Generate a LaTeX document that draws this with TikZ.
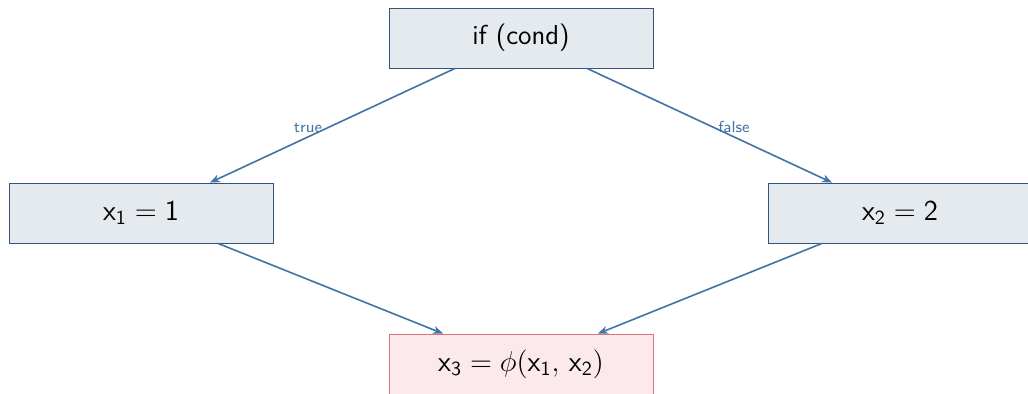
\documentclass[tikz,border=0pt]{standalone}
\usepackage{amsmath}
\usetikzlibrary{arrows.meta}

\definecolor{boxFill}{HTML}{E5EAEF}
\definecolor{boxLine}{HTML}{34557F}
\definecolor{phiFill}{HTML}{FBE9EB}
\definecolor{phiLine}{HTML}{E0707C}
\definecolor{edgeCol}{HTML}{4372A3}

\begin{document}
\begin{tikzpicture}[font=\sffamily ,
block/.style={rectangle, draw=boxLine, fill=boxFill, minimum height=30pt, minimum width=132pt, inner sep=0pt, font=\sffamily\fontsize{13.7}{16}\selectfont} ,
phiBlock/.style={block, draw=phiLine, fill=phiFill} ,
flow/.style={draw=edgeCol, thick, -{Stealth[length=5pt, width=4pt]}} ,
branch/.style={font=\sffamily\footnotesize, text=edgeCol, inner sep=1.5pt}
]
\useasboundingbox (0,0) rectangle (514pt,196.5pt) ;

\node (cond) at (260.5pt,177.5pt) [block] {if (cond)} ;
\node (x1) at (70.5pt,90pt) [block] {$\mathsf{x_1 = 1}$} ;
\node (x2) at (450pt,90pt) [block] {$\mathsf{x_2 = 2}$} ;
\node (x3) at (260.5pt,14.5pt) [phiBlock] {$\mathsf{x_3} = \phi\mathsf{(x_1,\, x_2)}$} ;

\draw [flow] ([xshift=-33pt]cond.south) -- node [branch, pos=0.6, above] {true} ([xshift=34.5pt]x1.north) ;
\draw [flow] ([xshift=33pt]cond.south) -- node [branch, pos=0.6, above] {false} ([xshift=-34pt]x2.north) ;
\draw [flow] ([xshift=38.5pt]x1.south) -- ([xshift=-39pt]x3.north) ;
\draw [flow] ([xshift=-39pt]x2.south) -- ([xshift=38.5pt]x3.north) ;
\end{tikzpicture}
\end{document}
